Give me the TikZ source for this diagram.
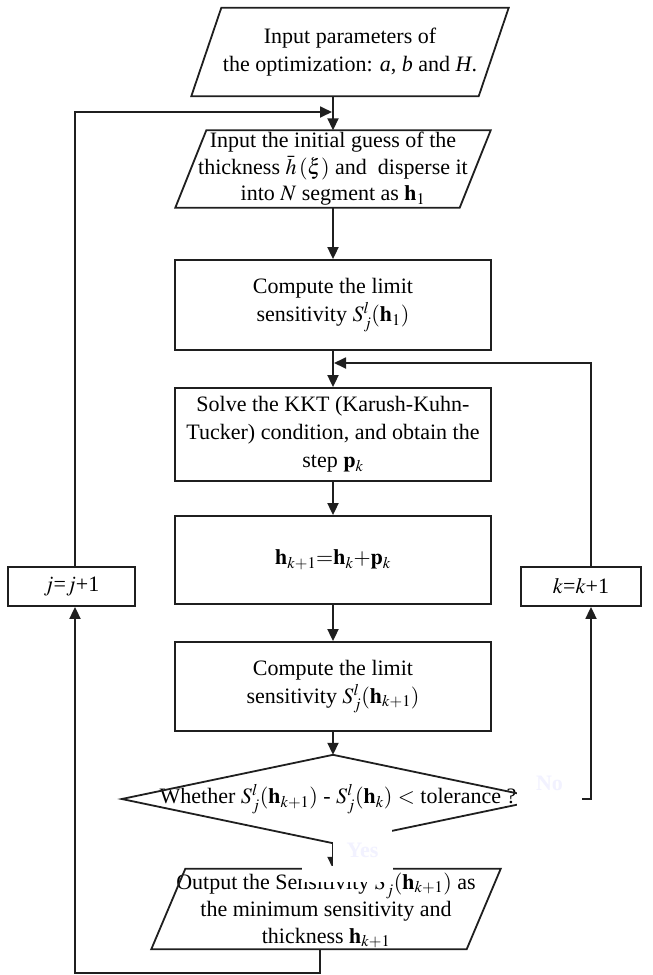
\documentclass[tikz,border=0pt]{standalone}
\usepackage{mathptmx}
\usepackage{fontspec}
\setmainfont{Liberation Serif}
\usetikzlibrary{arrows.meta,calc}
\tikzset{
  ln/.style={line width=1.8pt, draw=black!88},
  txt/.style={rectangle, align=center, inner sep=0pt, font=\fontsize{22}{28}\selectfont},
  box/.style={txt, ln, minimum width=316pt},
  arr/.style={ln, -{Triangle[length=12pt,width=11pt]}},
  patch/.style={rectangle, fill=white, inner sep=0pt, text=blue!5, font=\fontsize{22}{28}\selectfont\bfseries},
}
\newcommand\mypara[2]{\draw[ln] ([xshift=#2]#1.north west) -- ([xshift=#2]#1.north east) -- ([xshift=-#2]#1.south east) -- ([xshift=-#2]#1.south west) -- cycle;}
\begin{document}
\begin{tikzpicture}[x=1pt,y=-1pt]
\useasboundingbox (0,0) rectangle (653,975);
% nodes
\node[txt, minimum width=287pt, minimum height=88pt] (b1) at (350,52) {Input parameters of\\the optimization: \textit{a}, \textit{b} and \textit{H}.};
\mypara{b1}{15pt}
\node[txt, minimum width=284pt, minimum height=77pt, font=\fontsize{22}{26.5}\selectfont] (b2) at (333,169) {Input the initial guess of the\\thickness $\bar{h}\,(\xi)$ and \ disperse it\\into $N$ segment as $\mathbf{h}_1$};
\mypara{b2}{15.5pt}
\node[box, minimum height=90pt] (b3) at (333,305) {Compute the limit\\sensitivity $S_j^l(\mathbf{h}_1)$};
\node[box, minimum height=93pt] (b4) at (333,434.5) {Solve the KKT (Karush-Kuhn-\\Tucker) condition, and obtain the\\step $\mathbf{p}_k$};
\node[box, minimum height=88pt] (b5) at (333,560) {$\mathbf{h}_{k+1}{=}\mathbf{h}_k{+}\mathbf{p}_k$};
\node[box, minimum height=89pt] (b6) at (333,686.5) {Compute the limit\\sensitivity $S_j^l(\mathbf{h}_{k+1})$};
\node[txt, minimum width=422pt, minimum height=88pt] (d) at (333,799) {\hspace*{10pt}Whether $S_j^l(\mathbf{h}_{k+1})$ - $S_j^l(\mathbf{h}_k)$ $<$ tolerance ?};
\draw[ln] (d.north) -- (d.east) -- (d.south) -- (d.west) -- cycle;
\node[txt, minimum width=315pt, minimum height=80pt, font=\fontsize{22}{27}\selectfont] (b7) at (326,909) {Output the Sensitivity $S_j^l(\mathbf{h}_{k+1})$ as\\the minimum sensitivity and\\thickness $\mathbf{h}_{k+1}$};
\mypara{b7}{17pt}
\node[box, minimum width=127pt, minimum height=39pt] (j) at (71.5,586.5) {$j$=$j$+1};
\node[box, minimum width=120pt, minimum height=39pt] (k) at (581,586.5) {$k$=$k$+1};
% helper coordinates
\coordinate (m1) at (332,112);
\coordinate (m2) at (334,363);
\coordinate (jl) at (75,0);
\coordinate (kr) at (591,0);
\coordinate (bl) at (320,973);
% connectors
\draw[arr] (b1.south -| b2.north) -- (b2.north);
\draw[arr] (b2.south) -- (b3.north);
\draw[arr] (b3.south) -- (b4.north);
\draw[arr] (b4.south) -- (b5.north);
\draw[arr] (b5.south) -- (b6.north);
\draw[arr] (b6.south) -- (d.north);
\draw[arr] (d.south) -- (d.south |- b7.north);
\draw[arr] (d.east) -- (d.east -| kr) -- (kr |- k.south);
\draw[arr] (kr |- k.north) |- (m2);
\draw[arr] (jl |- j.north) |- (m1);
\draw[arr] (bl |- b7.south) -- (bl) -| (jl |- j.south);
% white label patches
\node[patch, minimum width=65pt, minimum height=58pt] (no) at (549.5,783) {No};
\node[patch, minimum width=59pt, minimum height=42pt] (yes) at (362.5,850) {Yes};
\fill[white] (302,866) rectangle (393,881.5);
\end{tikzpicture}
\end{document}
